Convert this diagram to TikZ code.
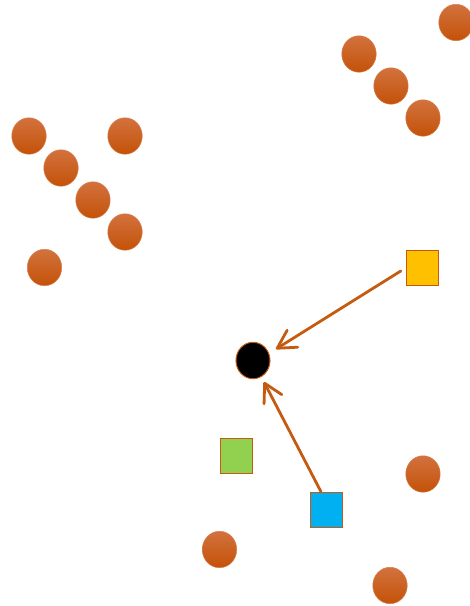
\documentclass[tikz,border=0pt]{standalone}
\usetikzlibrary{shapes.geometric,arrows.meta}
\definecolor{org}{HTML}{C55A11}
\definecolor{orgtop}{HTML}{D2723E}
\definecolor{orgbot}{HTML}{C45208}
\definecolor{orgline}{HTML}{D98050}
\definecolor{yel}{HTML}{FFC000}
\definecolor{grn}{HTML}{92D050}
\definecolor{blu}{HTML}{00B0F0}
\tikzset{
  ball/.style={ellipse, minimum width=34.5pt, minimum height=36.5pt, inner sep=0pt,
    top color=orgtop, bottom color=orgbot, draw=orgline, line width=0.5pt},
  target/.style={ellipse, minimum width=34pt, minimum height=36.5pt, inner sep=0pt,
    fill=black, draw=org, line width=1pt},
  sq/.style={rectangle, minimum width=32pt, minimum height=35pt, inner sep=0pt,
    draw=org, line width=1.5pt},
  arr/.style={draw=org, line width=2.8pt, line cap=round, line join=round,
    -{Straight Barb[length=18pt, width=20pt, line cap=round, line join=round]}}
}
\begin{document}
\begin{tikzpicture}[x=1pt,y=-1pt]
\useasboundingbox (0,0) rectangle (470,606);
% balls
\node[ball] (b1) at (456,22.5) {};
\node[ball] (b2) at (359,54) {};
\node[ball] (b3) at (391,86) {};
\node[ball] (b4) at (423,118) {};
\node[ball] (b5) at (29,136) {};
\node[ball] (b6) at (125,136) {};
\node[ball] (b7) at (61,168) {};
\node[ball] (b8) at (93,200) {};
\node[ball] (b9) at (125,232) {};
\node[ball] (b10) at (44.5,267.5) {};
\node[ball] (b11) at (423,474) {};
\node[ball] (b12) at (219.5,549.5) {};
\node[ball] (b13) at (390,585.5) {};
% target
\node[target] (blk) at (253,360.5) {};
% squares
\node[sq, fill=yel] (ys) at (422.5,268) {};
\node[sq, fill=grn] (gs) at (236.5,456) {};
\node[sq, fill=blu] (bs) at (326.5,510) {};
% arrows
\draw[arr] ([shift={(-5,3)}]ys.west) -- ([shift={(23,-11.5)}]blk.center);
\draw[arr] ([shift={(-5.5,0)}]bs.north) -- ([shift={(11,21.5)}]blk.center);
\end{tikzpicture}
\end{document}
